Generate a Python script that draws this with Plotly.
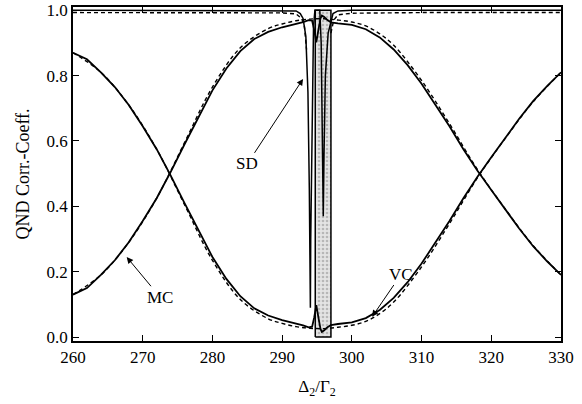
import plotly.graph_objects as go

# ---------------- data ----------------
# VC curve (solid): high at the wings, dip near resonance
vc_x = [260, 262, 264, 266, 268, 270, 272, 274, 276, 278, 280, 282, 284, 286, 288, 290, 292, 293, 293.8,
        294.3, 294.6, 294.9, 295.2, 295.5, 295.7, 296.0, 296.5, 297.0,
        298, 300, 302, 304, 306, 308, 310, 312, 314, 316, 318, 320, 322, 324, 326, 328, 330]
vc_y = [0.87, 0.85, 0.81, 0.765, 0.71, 0.645, 0.575, 0.495, 0.41, 0.325, 0.245, 0.178, 0.125, 0.088, 0.066, 0.052, 0.042, 0.036, 0.030,
        0.032, 0.060, 0.098, 0.060, 0.025, 0.016, 0.020, 0.030, 0.037,
        0.040, 0.045, 0.058, 0.083, 0.120, 0.168, 0.225, 0.288, 0.355, 0.425, 0.490, 0.550, 0.610, 0.668, 0.722, 0.768, 0.810]
# MC curve (solid): low at the wings, peak near resonance
mc_x = vc_x
mc_y = [0.13, 0.15, 0.19, 0.235, 0.29, 0.355, 0.425, 0.505, 0.59, 0.675, 0.755, 0.822, 0.875, 0.912, 0.934, 0.948, 0.958, 0.964, 0.970,
        0.968, 0.940, 0.902, 0.940, 0.975, 0.984, 0.980, 0.970, 0.963,
        0.960, 0.955, 0.942, 0.917, 0.880, 0.832, 0.775, 0.712, 0.645, 0.575, 0.510, 0.450, 0.390, 0.332, 0.278, 0.232, 0.190]
# dashed approximations
vcd_x = [260, 264, 268, 272, 276, 280, 284, 288, 290, 292, 294, 296, 298, 300, 302, 304, 306, 310, 314, 318, 322, 326, 330]
vcd_y = [0.87, 0.81, 0.71, 0.575, 0.405, 0.235, 0.115, 0.056, 0.042, 0.032, 0.027, 0.026, 0.030, 0.036, 0.048, 0.072, 0.107, 0.215, 0.347, 0.487, 0.608, 0.720, 0.810]
mcd_x = vcd_x
mcd_y = [0.13, 0.19, 0.29, 0.425, 0.595, 0.765, 0.885, 0.944, 0.958, 0.968, 0.973, 0.974, 0.970, 0.964, 0.952, 0.928, 0.893, 0.785, 0.653, 0.513, 0.392, 0.280, 0.190]
# SD curve (solid), near 1 except at resonance
sd_x = [260, 280, 290, 292, 292.6, 293.0, 293.4, 293.7, 293.9, 294.0, 294.05, 294.1, 294.3, 294.5, 294.7,
        295.4, 295.6, 295.8, 295.9, 296.0, 296.2, 296.6, 297.0, 297.3, 298, 300, 310, 330]
sd_y = [1.0, 1.0, 1.0, 0.998, 0.99, 0.975, 0.92, 0.75, 0.45, 0.2, 0.09, 0.3, 0.7, 0.95, 1.0,
        1.0, 0.9, 0.55, 0.37, 0.55, 0.8, 0.93, 0.97, 0.99, 0.998, 1.0, 1.0, 1.0]
# SD dashed approximation
sdd_x = [260, 280, 290, 292, 292.8, 293.2, 293.5, None, 297.0, 297.4, 298, 300, 310, 330]
sdd_y = [0.993, 0.993, 0.992, 0.989, 0.975, 0.95, 0.88, None, 0.93, 0.97, 0.986, 0.991, 0.993, 0.993]
# shaded region (unstable range)
region_x = [294.75, 297.0]
region_y = [0.0, 1.0]

x_ticks = [260, 270, 280, 290, 300, 310, 320, 330]
y_ticks = [0.0, 0.2, 0.4, 0.6, 0.8, 1.0]

FONT = "Liberation Serif"

fig = go.Figure()

# shaded region
fig.add_trace(go.Scatter(
    x=[region_x[0], region_x[1], region_x[1], region_x[0], region_x[0]],
    y=[region_y[0], region_y[0], region_y[1], region_y[1], region_y[0]],
    mode="lines", fill="toself", fillcolor="rgba(225,225,225,1)",
    fillpattern=dict(shape=".", fgcolor="#8a8a8a", bgcolor="#e4e4e4", size=4, solidity=0.35),
    line=dict(color="black", width=1.5), hoverinfo="skip", showlegend=False))

dash = dict(color="black", width=1.4, dash="4px,3px")
solid = dict(color="black", width=1.8)

fig.add_trace(go.Scatter(x=vcd_x, y=vcd_y, mode="lines", line=dash, line_shape="spline", showlegend=False))
fig.add_trace(go.Scatter(x=mcd_x, y=mcd_y, mode="lines", line=dash, line_shape="spline", showlegend=False))
fig.add_trace(go.Scatter(x=sdd_x, y=sdd_y, mode="lines", line=dash, showlegend=False))
fig.add_trace(go.Scatter(x=vc_x, y=vc_y, mode="lines", line=solid, showlegend=False))
fig.add_trace(go.Scatter(x=mc_x, y=mc_y, mode="lines", line=solid, showlegend=False))
fig.add_trace(go.Scatter(x=sd_x, y=sd_y, mode="lines", line=dict(color="black", width=1.5), showlegend=False))

# labels with arrows (label centre -> arrow head on the curve)
labels = [("SD", 285.0, 0.53, 293.0, 0.79),
          ("MC", 272.5, 0.122, 267.7, 0.245),
          ("VC", 307.1, 0.193, 302.9, 0.062)]
for txt, tx, ty, hx, hy in labels:
    fig.add_annotation(x=hx, y=hy, ax=tx, ay=ty, xref="x", yref="y", axref="x", ayref="y",
                       text=txt, showarrow=True, arrowhead=2, arrowsize=1.3, arrowwidth=1,
                       arrowcolor="black", standoff=0,
                       font=dict(family=FONT, size=17, color="black"))

fig.update_layout(
    width=582, height=404,
    margin=dict(l=73, r=21, t=7, b=63, autoexpand=False),
    paper_bgcolor="white", plot_bgcolor="white",
    font=dict(family=FONT, size=17, color="black"),
    showlegend=False,
)
fig.update_xaxes(range=[260, 330], tickvals=x_ticks, ticktext=[str(v) for v in x_ticks],
                 ticks="inside", ticklen=6, tickwidth=1.2, tickcolor="black",
                 showline=True, linecolor="black", linewidth=1.5, mirror="ticks",
                 showgrid=False, zeroline=False, automargin=False,
                 title=dict(text="Δ<sub>2</sub>/Γ<sub>2</sub>", standoff=14, font=dict(size=17)))
fig.update_yaxes(range=[-0.012, 1.01], tickvals=y_ticks, ticktext=[f"{v:.1f}" for v in y_ticks],
                 ticks="inside", ticklen=6, tickwidth=1.2, tickcolor="black",
                 showline=True, linecolor="black", linewidth=1.5, mirror="ticks",
                 showgrid=False, zeroline=False, automargin=False,
                 title=dict(text="QND Corr.-Coeff.", standoff=12, font=dict(size=18)))

fig.write_html("out.html", config={"displayModeBar": False},
               post_script="document.body.style.margin='0';document.body.style.overflow='hidden';")
